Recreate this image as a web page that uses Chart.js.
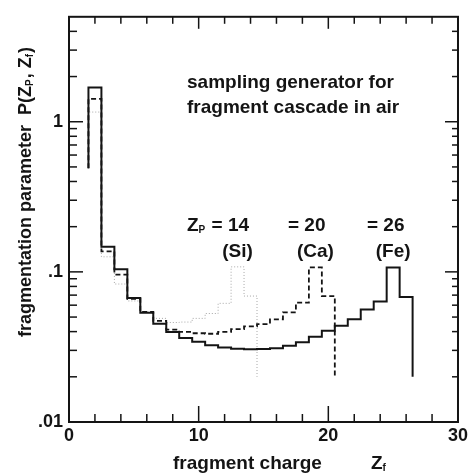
<!DOCTYPE html>
<html>
<head>
<meta charset="utf-8">
<script src="https://cdn.jsdelivr.net/npm/chart.js@4.4.1/dist/chart.umd.min.js"></script>
<style>
  html, body { margin: 0; padding: 0; background: #fff; }
  #wrap { width: 471px; height: 474px; }
</style>
</head>
<body>
<div id="wrap"><canvas id="frag" width="471" height="474"></canvas></div>
<script>
// fragment charge Z_f, bin centres (bins are one unit wide)
const charges = [2, 3, 4, 5, 6, 7, 8, 9, 10, 11, 12, 13, 14, 15, 16, 17, 18, 19, 20, 21, 22, 23, 24, 25, 26];

// P(Z_P, Z_f), one value per bin starting at Z_f = 2
const feValues = [1.69, 0.147, 0.104, 0.067, 0.0534, 0.0451, 0.0398, 0.0362, 0.0342, 0.0324, 0.0313, 0.0308, 0.0305,
                  0.0306, 0.031, 0.0322, 0.034, 0.0369, 0.0405, 0.0438, 0.0484, 0.0562, 0.0636, 0.107, 0.068];
const caValues = [1.42, 0.137, 0.096, 0.066, 0.0542, 0.0471, 0.0412, 0.0398, 0.039, 0.0387, 0.0398, 0.0415, 0.0433,
                  0.0449, 0.0482, 0.0538, 0.0623, 0.107, 0.069];
const siValues = [1.16, 0.126, 0.083, 0.064, 0.054, 0.049, 0.046, 0.0463, 0.049, 0.0528, 0.0617, 0.108, 0.069];

const edgeStart = 0.49;  // where the left edge of the first bin starts
const tailEnd = 0.02;    // where the right edge of the last bin stops

const xTicks = [0, 10, 20, 30];
const yTickValues = [0.01, 0.1, 1];
const yTickLabels = ['.01', '.1', '1'];

const FONT = '"Liberation Sans", Arial, Helvetica, sans-serif';
const INK = '#141414';

function histPoints(values) {
    const pts = [{ x: charges[0] - 0.5, y: edgeStart }];
    values.forEach((v, i) => pts.push({ x: charges[i] - 0.5, y: v }));
    const last = values.length - 1;
    pts.push({ x: charges[last] + 0.5, y: values[last] });
    pts.push({ x: charges[last] + 0.5, y: tailEnd });
    return pts;
}

// text with subscripts: parts = [[text, isSub], ...]
function drawRich(ctx, x, y, parts, size) {
    parts.forEach(([t, sub]) => {
        const s = sub ? Math.round(size * 0.55) : size;
        ctx.font = `bold ${s}px ${FONT}`;
        ctx.fillText(t, x, y + (sub ? size * 0.12 : 0));
        x += ctx.measureText(t).width + (sub ? 1 : 0);
    });
    return x;
}

// frame with inward ticks on all four sides
const framePlugin = {
    id: 'frame',
    afterDatasetsDraw(chart) {
        const { ctx, chartArea: a, scales: { x, y } } = chart;
        const seg = (x1, y1, x2, y2) => { ctx.beginPath(); ctx.moveTo(x1, y1); ctx.lineTo(x2, y2); ctx.stroke(); };
        ctx.save();
        ctx.strokeStyle = INK;
        ctx.lineWidth = 2;
        ctx.strokeRect(a.left, a.top, a.right - a.left, a.bottom - a.top);
        ctx.lineWidth = 1.5;
        for (let v = 2; v < 30; v += 2) {
            const px = x.getPixelForValue(v);
            const major = v % 10 === 0;
            seg(px, a.bottom, px, a.bottom - (major ? 16 : 8));
            seg(px, a.top, px, a.top + (major ? 12 : 7));
        }
        [0.01, 0.1, 1].forEach(dec => {
            for (let m = 1; m <= 9; m++) {
                const v = m * dec;
                if (v <= 0.01 || v >= 5) continue;
                const py = y.getPixelForValue(v);
                const major = m === 1;
                seg(a.left, py, a.left + (major ? 14 : 8), py);
                seg(a.right, py, a.right - (major ? 13 : 6), py);
            }
        });
        ctx.restore();
    },
    afterDraw(chart) {
        const { ctx, scales: { x } } = chart;
        ctx.save();
        ctx.fillStyle = INK;
        ctx.textBaseline = 'alphabetic';
        ctx.textAlign = 'left';
        ctx.font = `bold 19px ${FONT}`;
        ctx.fillText('sampling generator for', 187, 88);
        ctx.fillText('fragment cascade in air', 187, 113);

        drawRich(ctx, 187, 231, [['Z', false], ['P', true], [' = 14', false]], 19);
        drawRich(ctx, 288, 231, [['= 20', false]], 19);
        drawRich(ctx, 367, 231, [['= 26', false]], 19);

        ctx.textAlign = 'center';
        ctx.font = `bold 19px ${FONT}`;
        ctx.fillText('(Si)', x.getPixelForValue(13), 257);
        ctx.fillText('(Ca)', x.getPixelForValue(19), 257);
        ctx.fillText('(Fe)', x.getPixelForValue(25), 257);

        // axis titles
        ctx.textAlign = 'left';
        ctx.font = `bold 19px ${FONT}`;
        ctx.fillText('fragment charge', 173, 469);
        drawRich(ctx, 371, 469, [['Z', false], ['f', true]], 19);

        ctx.translate(31, 337);
        ctx.rotate(-Math.PI / 2);
        drawRich(ctx, 0, 0, [['fragmentation parameter  P(Z', false], ['P', true], [', Z', false], ['f', true], [')', false]], 18);
        ctx.restore();
    }
};

const tickFont = { family: FONT, size: 18, weight: 'bold' };

new Chart(document.getElementById('frag'), {
    type: 'line',
    data: {
        datasets: [
            { label: 'Z_P = 26 (Fe)', data: histPoints(feValues), borderColor: INK, borderWidth: 2 },
            { label: 'Z_P = 20 (Ca)', data: histPoints(caValues), borderColor: INK, borderWidth: 1.8, borderDash: [5, 3] },
            { label: 'Z_P = 14 (Si)', data: histPoints(siValues), borderColor: '#a8a8a8', borderWidth: 1, borderDash: [1, 2] }
        ]
    },
    options: {
        responsive: false,
        animation: false,
        elements: {
            line: { stepped: 'before', tension: 0, fill: false },
            point: { radius: 0 }
        },
        layout: { padding: { top: 8, right: 12, left: 0, bottom: 0 } },
        plugins: { legend: { display: false }, tooltip: { enabled: false } },
        scales: {
            x: {
                type: 'linear', min: 0, max: 30,
                grid: { display: false, drawTicks: false },
                border: { display: false },
                afterBuildTicks: s => { s.ticks = xTicks.map(v => ({ value: v })); },
                ticks: { font: tickFont, color: INK, padding: 3, maxRotation: 0, autoSkip: false },
                afterFit: s => { s.height = 52; }
            },
            y: {
                type: 'logarithmic', min: 0.01, max: 5,
                grid: { display: false, drawTicks: false },
                border: { display: false },
                afterBuildTicks: s => { s.ticks = yTickValues.map(v => ({ value: v })); },
                ticks: { font: tickFont, color: INK, padding: 6, autoSkip: false,
                         callback: (v, i) => yTickLabels[i] },
                afterFit: s => { s.width = 69; }
            }
        }
    },
    plugins: [framePlugin]
});
</script>
</body>
</html>
